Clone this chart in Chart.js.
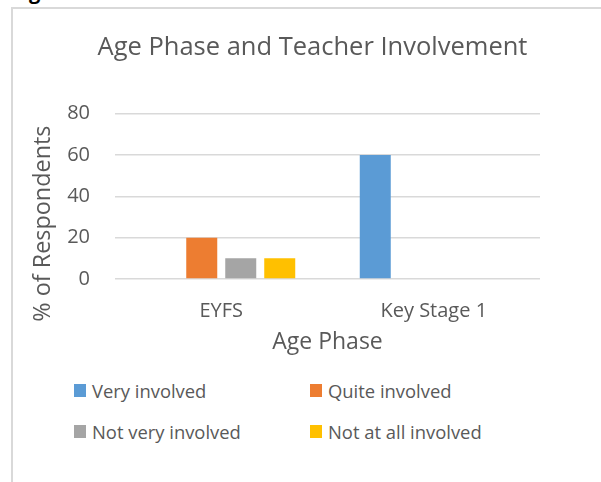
<!DOCTYPE html>
<html lang="en">
  <head>
    <meta charset="UTF-8" />
    <title>Age Phase and Teacher Involvement</title>
    <script src="https://cdn.jsdelivr.net/npm/chart.js"></script>
    <style>
      body { margin: 0; background: #fff; font-family: 'Open Sans', sans-serif; }
      #wrap { position: relative; width: 601px; height: 482px; overflow: hidden; background: #fff; }
      #fig { position: absolute; left: 12px; top: -22px; font-weight: bold; font-size: 20px; color: #000; }
      .frame-top { position: absolute; left: 11px; top: 7px; width: 590px; height: 2px; background: #d9d9d9; }
      .frame-left { position: absolute; left: 11px; top: 7px; width: 2px; height: 475px; background: #d9d9d9; }
      canvas { position: absolute; left: 0; top: 0; }
      .item { position: absolute; display: flex; align-items: center; font-size: 18.4px; color: #595959; white-space: nowrap; }
      .item .box { width: 12px; height: 13px; margin-right: 6px; }
    </style>
  </head>
  <body>
    <div id="wrap">
      <div id="fig">Fig. 4</div>
      <div class="frame-top"></div>
      <div class="frame-left"></div>
      <canvas id="ageChart" width="601" height="365"></canvas>
      <div id="legend"></div>
    </div>

    <script>
      const categories = ['EYFS', 'Key Stage 1'];
      const seriesNames = ['Very involved', 'Quite involved', 'Not very involved', 'Not at all involved'];
      const veryInvolved = [0, 60];
      const quiteInvolved = [20, 0];
      const notVeryInvolved = [10, 0];
      const notAtAllInvolved = [10, 0];
      const seriesColors = ['#5B9BD5', '#ED7D31', '#A5A5A5', '#FFC000'];

      const textColor = '#595959';
      Chart.defaults.font.family = "'Open Sans', sans-serif";
      Chart.defaults.color = textColor;

      const allSeries = [veryInvolved, quiteInvolved, notVeryInvolved, notAtAllInvolved];
      const datasets = allSeries.map((values, i) => ({
        label: seriesNames[i],
        data: values,
        backgroundColor: seriesColors[i],
        borderWidth: 0,
        barPercentage: 0.795,
        categoryPercentage: 0.734
      }));

      // y axis title sits a bit lower than the axis middle in the original
      const yTitle = {
        id: 'yTitle',
        afterDraw(chart) {
          const ctx = chart.ctx;
          const area = chart.chartArea;
          ctx.save();
          ctx.translate(area.left - 72, area.top + 110);
          ctx.rotate(-Math.PI / 2);
          ctx.font = "23.4px 'Open Sans', sans-serif";
          ctx.fillStyle = textColor;
          ctx.textAlign = 'center';
          ctx.textBaseline = 'middle';
          ctx.fillText('% of Respondents', 0, 0);
          ctx.restore();
        }
      };

      const ctx = document.getElementById('ageChart').getContext('2d');
      const ageChart = new Chart(ctx, {
        type: 'bar',
        data: { labels: categories, datasets: datasets },
        plugins: [yTitle],
        options: {
          responsive: false,
          animation: false,
          layout: { padding: { left: 24, right: 0, top: 0, bottom: 0 } },
          plugins: {
            legend: { display: false },
            tooltip: { enabled: false },
            title: {
              display: true,
              text: 'Age Phase and Teacher Involvement',
              color: textColor,
              font: { size: 25.5, weight: 'normal' },
              padding: { top: 32, bottom: 51 }
            }
          },
          scales: {
            x: {
              grid: { display: false },
              border: { display: false },
              ticks: { font: { size: 20 }, padding: 12 },
              title: {
                display: true,
                text: 'Age Phase',
                color: textColor,
                font: { size: 23 },
                padding: { top: 0, bottom: 9 }
              },
              afterFit: s => { s.height = 86; }
            },
            y: {
              min: 0,
              max: 80,
              ticks: { stepSize: 20, font: { size: 20 }, padding: 25 },
              grid: { color: '#d9d9d9', lineWidth: 1.5, drawTicks: false },
              border: { display: false },
              afterFit: s => { s.width = 91; }
            },
            // empty right-hand axis keeps the plot narrower than the title band
            yRight: {
              position: 'right',
              grid: { display: false },
              border: { display: false },
              ticks: { display: false },
              afterFit: s => { s.width = 61; }
            }
          }
        }
      });

      // two-column legend like the original
      const legend = document.getElementById('legend');
      const colX = [74, 310];
      const rowY = [378, 419];
      seriesNames.forEach((name, i) => {
        const item = document.createElement('div');
        item.className = 'item';
        item.style.left = colX[i % 2] + 'px';
        item.style.top = rowY[Math.floor(i / 2)] + 'px';
        item.innerHTML = '<span class="box" style="background:' + seriesColors[i] + '"></span>' + name;
        legend.appendChild(item);
      });
    </script>
  </body>
</html>
